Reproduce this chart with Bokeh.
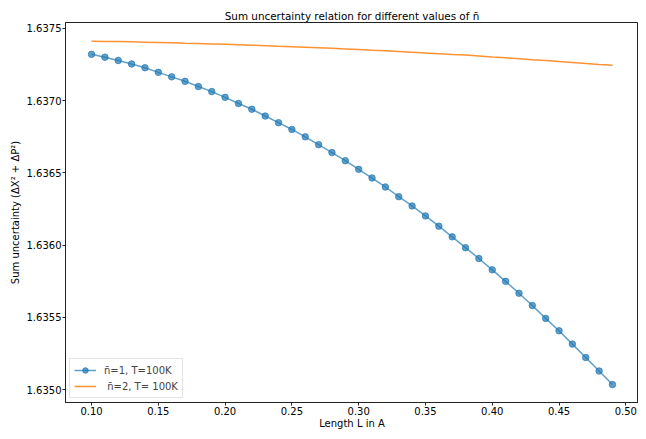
from bokeh.plotting import figure
from bokeh.models import FixedTicker, PrintfTickFormatter, Legend, LegendItem, Range1d
from bokeh.embed import file_html
from bokeh.resources import INLINE

# Data
L = [0.10, 0.11, 0.12, 0.13, 0.14, 0.15, 0.16, 0.17, 0.18, 0.19,
     0.20, 0.21, 0.22, 0.23, 0.24, 0.25, 0.26, 0.27, 0.28, 0.29,
     0.30, 0.31, 0.32, 0.33, 0.34, 0.35, 0.36, 0.37, 0.38, 0.39,
     0.40, 0.41, 0.42, 0.43, 0.44, 0.45, 0.46, 0.47, 0.48, 0.49]
sum_n1 = [1.637320, 1.637300, 1.637277, 1.637253, 1.637227, 1.637195, 1.637164, 1.637133, 1.637097, 1.637062,
          1.637022, 1.636980, 1.636940, 1.636893, 1.636847, 1.636800, 1.636749, 1.636695, 1.636640, 1.636584,
          1.636524, 1.636464, 1.636402, 1.636335, 1.636271, 1.636202, 1.636131, 1.636057, 1.635982, 1.635907,
          1.635829, 1.635749, 1.635667, 1.635582, 1.635493, 1.635407, 1.635315, 1.635222, 1.635129, 1.635035]
sum_n2 = [1.637411, 1.637409, 1.637408, 1.637406, 1.637404, 1.637402, 1.637400, 1.637397, 1.637395, 1.637392,
          1.637389, 1.637386, 1.637383, 1.637380, 1.637376, 1.637373, 1.637369, 1.637365, 1.637361, 1.637357,
          1.637353, 1.637348, 1.637344, 1.637339, 1.637334, 1.637329, 1.637324, 1.637318, 1.637316, 1.637309,
          1.637302, 1.637296, 1.637290, 1.637283, 1.637277, 1.637270, 1.637264, 1.637257, 1.637250, 1.637245]
x_ticks = [0.10, 0.15, 0.20, 0.25, 0.30, 0.35, 0.40, 0.45, 0.50]
y_ticks = [1.6350, 1.6355, 1.6360, 1.6365, 1.6370, 1.6375]
label_n1 = "n\u0304=1, T=100K"
label_n2 = " n\u0304=2, T= 100K"
title_text = "Sum uncertainty relation for different values of n\u0304"
x_label = "Length L in A"
y_label = "Sum uncertainty (\u0394X\u00b2 + \u0394P\u00b2)"

FONT = "DejaVu Sans"

p = figure(width=638, height=431, output_backend="svg", toolbar_location=None,
           x_range=Range1d(0.0805, 0.5095), y_range=Range1d(1.634911, 1.637540),
           min_border_left=65, min_border_right=0, min_border_top=22, min_border_bottom=20,
           background_fill_color="white", border_fill_color="white")

p.title.text = title_text
p.title.text_font = FONT
p.title.text_font_size = "10.4px"
p.title.text_font_style = "normal"
p.title.align = "center"
p.title.standoff = 2
p.title.text_color = "black"

p.xgrid.visible = False
p.ygrid.visible = False
p.outline_line_color = "#222222"
p.outline_line_width = 1

for ax in (p.xaxis[0], p.yaxis[0]):
    ax.axis_line_color = "#222222"
    ax.major_tick_line_color = "#222222"
    ax.minor_tick_line_color = None
    ax.major_tick_out = 3
    ax.major_tick_in = 0
    ax.major_label_text_font = FONT
    ax.major_label_text_font_size = "10px"
    ax.major_label_text_color = "black"
    ax.major_label_standoff = 1
    ax.axis_label_text_font = FONT
    ax.axis_label_text_font_size = "10px"
    ax.axis_label_text_font_style = "normal"
    ax.axis_label_text_color = "black"

p.xaxis[0].ticker = FixedTicker(ticks=x_ticks)
p.xaxis[0].formatter = PrintfTickFormatter(format="%.2f")
p.xaxis[0].axis_label = x_label
p.xaxis[0].axis_label_standoff = 0
p.yaxis[0].ticker = FixedTicker(ticks=y_ticks)
p.yaxis[0].formatter = PrintfTickFormatter(format="%.4f")
p.yaxis[0].axis_label = y_label
p.yaxis[0].axis_label_standoff = 3

l1 = p.line(L, sum_n1, line_color="#1f77b4", line_width=1.5, line_alpha=0.7)
s1 = p.scatter(L, sum_n1, marker="circle", size=6.5, fill_color="#1f77b4", line_color="#1f77b4",
               fill_alpha=0.7, line_alpha=0.7)
l2 = p.line(L, sum_n2, line_color="#ff7f0e", line_width=1.5, line_alpha=0.85)

legend = Legend(items=[LegendItem(label=label_n1, renderers=[l1, s1]),
                       LegendItem(label=label_n2, renderers=[l2])],
                location="bottom_left", margin=4, padding=4, spacing=2,
                label_text_font=FONT, label_text_font_size="10px",
                label_height=14, glyph_height=14, glyph_width=22, label_standoff=8,
                border_line_color="#cccccc", border_line_width=1,
                background_fill_alpha=0.8)
p.add_layout(legend)

open("out.html", "w").write(file_html(p, INLINE))
